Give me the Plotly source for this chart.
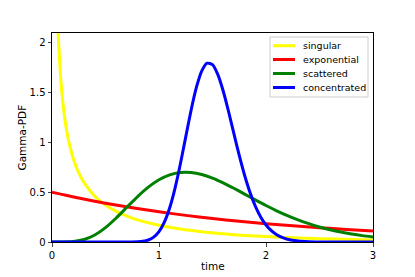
import plotly.graph_objects as go

# singular
x_sing = [0.04, 0.05, 0.06, 0.08, 0.1, 0.125, 0.15, 0.2, 0.25, 0.3, 0.4, 0.5, 0.6, 0.7, 0.8,
          1.0, 1.2, 1.4, 1.6, 1.8, 2.0, 2.25, 2.5, 2.75, 3.0]
y_sing = [2.715, 2.324, 2.044, 1.665, 1.416, 1.200, 1.045, 0.8345, 0.6956, 0.5958, 0.4601, 0.3709,
          0.3073, 0.2594, 0.2220, 0.1674, 0.1298, 0.1025, 0.0820, 0.0664, 0.0542, 0.0424, 0.0334,
          0.0266, 0.0212]

# exponential
x_exp = [0, 0.25, 0.5, 0.75, 1.0, 1.25, 1.5, 1.75, 2.0, 2.25, 2.5, 2.75, 3.0]
y_exp = [0.5, 0.4412, 0.3894, 0.3436, 0.3033, 0.2676, 0.2362, 0.2084, 0.1839, 0.1623, 0.1433,
         0.1264, 0.1116]

# scattered
x_scat = [0, 0.1, 0.2, 0.3, 0.4, 0.5, 0.6, 0.7, 0.8, 0.9, 1.0, 1.1, 1.2, 1.3, 1.4, 1.5, 1.6, 1.7,
          1.8, 1.9, 2.0, 2.1, 2.2, 2.3, 2.4, 2.5, 2.6, 2.7, 2.8, 2.9, 3.0]
y_scat = [0, 0.0002, 0.0049, 0.0250, 0.0706, 0.1443, 0.2408, 0.3489, 0.4559, 0.5507, 0.6252,
          0.6749, 0.6990, 0.6991, 0.6788, 0.6425, 0.5947, 0.5398, 0.4815, 0.4230, 0.3664, 0.3135,
          0.2652, 0.2220, 0.1841, 0.1513, 0.1234, 0.0999, 0.0803, 0.0642, 0.0510]

# concentrated
x_conc = [0, 0.5, 0.7, 0.75, 0.8, 0.85, 0.9, 0.95, 1.0, 1.05, 1.1, 1.15, 1.2, 1.25, 1.3, 1.35,
          1.4, 1.45, 1.5, 1.55, 1.6, 1.65, 1.7, 1.75, 1.8, 1.85, 1.9, 1.95, 2.0, 2.05, 2.1, 2.15,
          2.2, 2.3, 2.4, 2.5, 2.7, 3.0]
y_conc = [0, 0, 0.0001, 0.0006, 0.0023, 0.0073, 0.0203, 0.0488, 0.1040, 0.1987, 0.3433, 0.5417,
          0.7858, 1.0565, 1.3245, 1.5553, 1.7190, 1.7966, 1.7824, 1.6820, 1.5174, 1.3113, 1.0887,
          0.8694, 0.6703, 0.4991, 0.3599, 0.2518, 0.1713, 0.1133, 0.0730, 0.0459, 0.0281, 0.0099,
          0.0032, 0.0010, 0.0001, 0]

names = ["singular", "exponential", "scattered", "concentrated"]
colors = ["#ffff00", "#ff0000", "#008000", "#0000ff"]
xs_all = [x_sing, x_exp, x_scat, x_conc]
ys_all = [y_sing, y_exp, y_scat, y_conc]

x_ticks = [0, 1, 2, 3]
y_ticks = [0, 0.5, 1, 1.5, 2]
y_tick_text = ["0", "0.5", "1", "1.5", "2"]

fig = go.Figure()
for name, xs, ys, col in zip(names, xs_all, ys_all, colors):
    fig.add_trace(go.Scatter(x=xs, y=ys, name=name, mode="lines", showlegend=False,
                             line=dict(color=col, width=3, shape="spline", smoothing=0.6)))

font = "DejaVu Sans"

L, T, W, H = 52, 33, 321, 209
px = lambda v: (v - L) / W
py = lambda v: 1 - (v - T) / H

# hand-built legend (matplotlib style, compact rows)
shapes = [dict(type="rect", xref="paper", yref="paper", x0=px(270), x1=px(368), y0=py(97),
               y1=py(37), line=dict(color="#cccccc", width=1),
               fillcolor="rgba(255,255,255,0.8)", layer="above")]
annotations = []
rows = [45.7, 59.5, 73.5, 87.5]
for name, col, r in zip(names, colors, rows):
    shapes.append(dict(type="line", xref="paper", yref="paper", x0=px(273), x1=px(295),
                       y0=py(r), y1=py(r), line=dict(color=col, width=3), layer="above"))
    annotations.append(dict(xref="paper", yref="paper", x=px(301), y=py(r), text=name,
                            showarrow=False, xanchor="left", yanchor="middle",
                            font=dict(family=font, size=9.5, color="black")))

# axis titles
annotations.append(dict(xref="paper", yref="paper", x=px(21), y=0.5, text="Gamma-PDF",
                        textangle=-90, showarrow=False, xanchor="center", yanchor="middle",
                        font=dict(family=font, size=10.5, color="black")))
annotations.append(dict(xref="paper", yref="paper", x=0.5, y=py(266), text="time",
                        showarrow=False, xanchor="center", yanchor="middle",
                        font=dict(family=font, size=10.5, color="black")))

fig.update_layout(
    width=415, height=277,
    margin=dict(l=L, r=415 - L - W, t=T, b=277 - T - H),
    paper_bgcolor="white", plot_bgcolor="white",
    font=dict(family=font, size=10, color="black"),
    shapes=shapes, annotations=annotations,
    xaxis=dict(range=[0, 3], tickvals=x_ticks, ticks="outside", ticklen=3.5, tickwidth=0.8,
               showgrid=False, zeroline=False, showline=True, mirror=True, linecolor="black",
               linewidth=1, automargin=False),
    yaxis=dict(range=[0, 2.1], tickvals=y_ticks, ticktext=y_tick_text, ticks="outside",
               ticklen=3.5, tickwidth=0.8, showgrid=False, zeroline=False, showline=True,
               mirror=True, linecolor="black", linewidth=1, automargin=False),
)
fig.write_html("out.html", config={"displayModeBar": False},
               post_script="document.body.style.margin='0';document.body.style.overflow='hidden';")
